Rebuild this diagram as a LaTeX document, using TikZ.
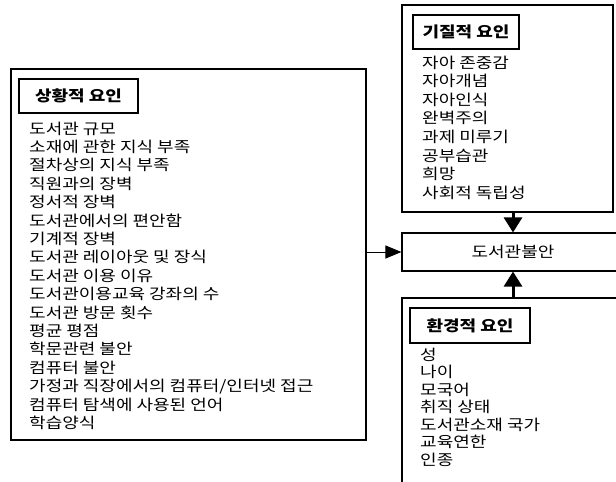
\documentclass[tikz,border=0pt]{standalone}
\usepackage{fontspec}
\setmainfont[FakeStretch=1.2]{Noto Sans CJK KR}
\usetikzlibrary{arrows.meta}

\tikzset{
  box/.style={draw, line width=1.1pt, inner sep=0pt},
  titlebox/.style={draw, line width=1.1pt, inner sep=0pt, minimum height=34pt,
    font=\fontsize{15}{16}\selectfont\bfseries},
  item/.style={inner sep=0pt, anchor=base west, font=\fontsize{15}{16}\selectfont},
  bigtip/.style={-{Triangle[length=15pt,width=18pt]}, line width=3pt},
}

\begin{document}
\begin{tikzpicture}[x=1pt, y=-1pt]
        % Cadre de l'image
        \useasboundingbox (0,0) rectangle (616,482);
        \clip (0,0) rectangle (616,482);

        % Boîtes principales
        \node[box, minimum width=355pt, minimum height=371pt] (situ) at (188.5,254.5) {};
        \node[box, minimum width=211pt, minimum height=207pt] (temp) at (507.5,108.5) {};
        \node[box, minimum width=222pt, minimum height=38pt, font=\fontsize{15}{16}\selectfont] (anx) at (513,252) {도서관불안};
        \node[box, minimum width=238pt, minimum height=232pt] (env) at (521,414) {};

        % Titres
        \node[titlebox, minimum width=119pt] (situT) at (78.5,96) {상황적 요인};
        \node[titlebox, minimum width=106pt] (tempT) at (466,32) {기질적 요인};
        \node[titlebox, minimum width=120pt, minimum height=35pt] (envT) at (470,325.5) {환경적 요인};

        % Facteurs situationnels
        \foreach \t [count=\i] in {도서관 규모, 소재에 관한 지식 부족, 절차상의 지식 부족,
            직원과의 장벽, 정서적 장벽, 도서관에서의 편안함, 기계적 장벽,
            도서관 레이아웃 및 장식, 도서관 이용 이유, 도서관이용교육 강좌의 수,
            도서관 방문 횟수, 평균 평점, 학문관련 불안, 컴퓨터 불안,
            가정과 직장에서의 컴퓨터/인터넷 접근, 컴퓨터 탐색에 사용된 언어, 학습양식}
          \node[item] (s\i) at (29,{134+(\i-1)*18.4}) {\t};

        % Facteurs dispositionnels
        \foreach \t [count=\i] in {자아 존중감, 자아개념, 자아인식, 완벽주의,
            과제 미루기, 공부습관, 희망, 사회적 독립성}
          \node[item] (t\i) at (422,{68+(\i-1)*18.6}) {\t};

        % Facteurs environnementaux
        \foreach \t [count=\i] in {성, 나이, 모국어, 취직 상태, 도서관소재 국가,
            교육연한, 인종}
          \node[item] (e\i) at (420,{360+(\i-1)*17.5}) {\t};

        % Flèches vers l'anxiété
        \draw[-{Triangle[length=16pt,width=13pt]}, line width=1pt] (anx.west -| situ.east) -- (anx.west);
        \draw[bigtip] (temp.south -| anx.north) -- (anx.north);
        \draw[bigtip] (env.north -| anx.south) -- (anx.south);

    \end{tikzpicture}
\end{document}
